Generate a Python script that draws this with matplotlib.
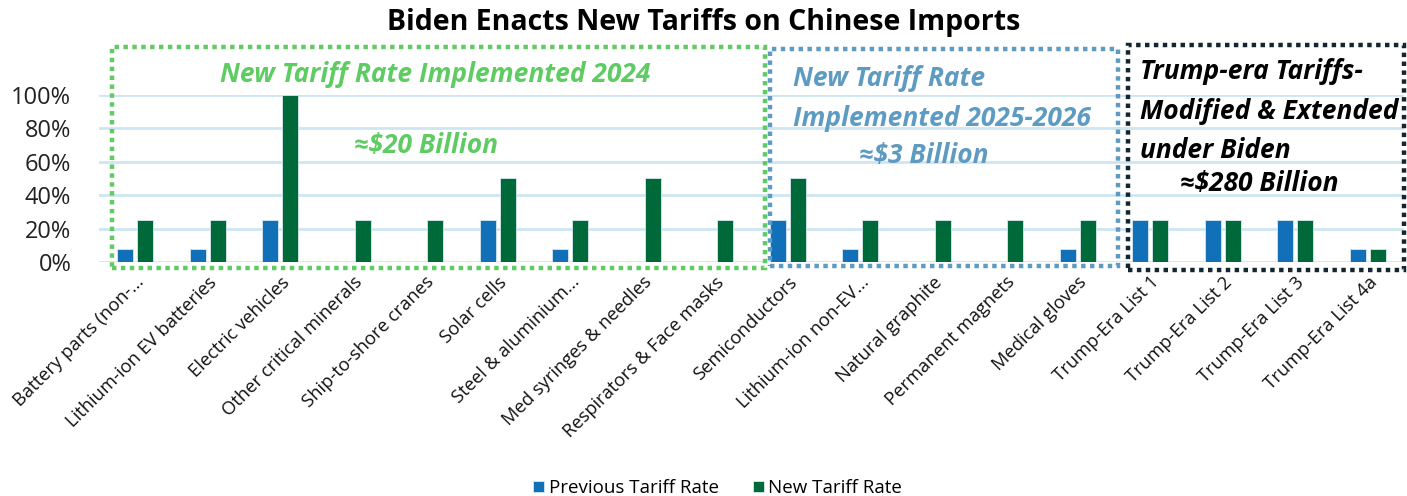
import matplotlib
matplotlib.use("Agg")
import matplotlib.pyplot as plt
from matplotlib.patches import Rectangle
import numpy as np

categories = ["Battery parts (non-...", "Lithium-ion EV batteries", "Electric vehicles",
              "Other critical minerals", "Ship-to-shore cranes", "Solar cells",
              "Steel & aluminium...", "Med syringes & needles", "Respirators & Face masks",
              "Semiconductors", "Lithium-ion non-EV...", "Natural graphite",
              "Permanent magnets", "Medical gloves", "Trump-Era List 1",
              "Trump-Era List 2", "Trump-Era List 3", "Trump-Era List 4a"]
previous_rate = [7.5, 7.5, 25, 0, 0, 25, 7.5, 0, 0, 25, 7.5, 0, 0, 7.5, 25, 25, 25, 7.5]
new_rate = [25, 25, 100, 25, 25, 50, 25, 50, 25, 50, 25, 25, 25, 25, 25, 25, 25, 7.5]
yticks = [0, 20, 40, 60, 80, 100]

plt.rcParams['font.family'] = ['Open Sans', 'DejaVu Sans']

BLUE = "#1170B8"
GREEN = "#00693A"
GBOX = "#5ECC62"
BBOX = "#5E9BC2"
KBOX = "#13262F"

fig = plt.figure(figsize=(14.07, 4.96), dpi=100)
ax = fig.add_axes([0.0704, 0.4718, 0.9275, 0.3367])

x = np.arange(len(categories))
w = 0.22
ax.bar(x - 0.14, previous_rate, w, color=BLUE, edgecolor="#d8e8f0", linewidth=0.6,
       label="Previous Tariff Rate", zorder=3)
ax.bar(x + 0.14, new_rate, w, color=GREEN, edgecolor="#d8e8f0", linewidth=0.6,
       label="New Tariff Rate", zorder=3)

ax.set_xlim(-0.5, len(categories) - 0.5)
ax.set_ylim(0, 100)
ax.set_yticks(yticks)
ax.set_yticklabels([f"{v}%" for v in yticks], fontsize=17, color="#222222")
for v in yticks:
    ax.axhline(v, color="#CDE6F2", lw=2, zorder=1)
ax.set_xticks(x)
ax.set_xticklabels(categories, rotation=45, ha="right", rotation_mode="anchor",
                   fontsize=13.2, color="#111111")
ax.tick_params(axis="both", length=0)
ax.tick_params(axis="x", pad=8)
ax.tick_params(axis="y", pad=20)
for s in ax.spines.values():
    s.set_visible(False)

def box(x0, x1, y0, y1, color):
    r = Rectangle((x0, y0), x1 - x0, y1 - y0, fill=False, edgecolor=color,
                  linewidth=3.2, linestyle=(0, (1, 1)), clip_on=False, zorder=4)
    ax.add_patch(r)

box(-0.32, 8.69, -3.6, 128.7, GBOX)
box(8.76, 13.56, -2.4, 127.5, BBOX)
box(13.69, 17.5, -4.8, 130, KBOX)

tkw = dict(fontsize=19, fontweight="bold", style="italic", clip_on=False)
ax.text(4.13, 112, "New Tariff Rate Implemented 2024", color=GBOX, ha="center", va="center", **tkw)
ax.text(4.01, 70, "≈$20 Billion", color=GBOX, ha="center", va="center", **tkw)
ax.text(9.07, 110, "New Tariff Rate", color=BBOX, ha="left", va="center", **tkw)
ax.text(9.07, 86, "Implemented 2025-2026", color=BBOX, ha="left", va="center", **tkw)
ax.text(10.87, 64, "≈$3 Billion", color=BBOX, ha="center", va="center", **tkw)
ax.text(13.86, 113.8, "Trump-era Tariffs-", color="black", ha="left", va="center", **tkw)
ax.text(13.86, 90.4, "Modified & Extended", color="black", ha="left", va="center", **tkw)
ax.text(13.86, 67, "under Biden", color="black", ha="left", va="center", **tkw)
ax.text(15.5, 46.7, "≈$280 Billion", color="black", ha="center", va="center", **tkw)

fig.text(0.5, 0.955, "Biden Enacts New Tariffs on Chinese Imports", ha="center", va="center",
         fontsize=20.5, fontweight="bold", color="black")

leg = fig.legend(loc="center", bbox_to_anchor=(0.51, 0.016), ncol=2, frameon=False,
                 fontsize=13.5, handlelength=0.6, handleheight=0.6, columnspacing=1.8,
                 handletextpad=0.25)

fig.savefig("out.png", dpi=100)
